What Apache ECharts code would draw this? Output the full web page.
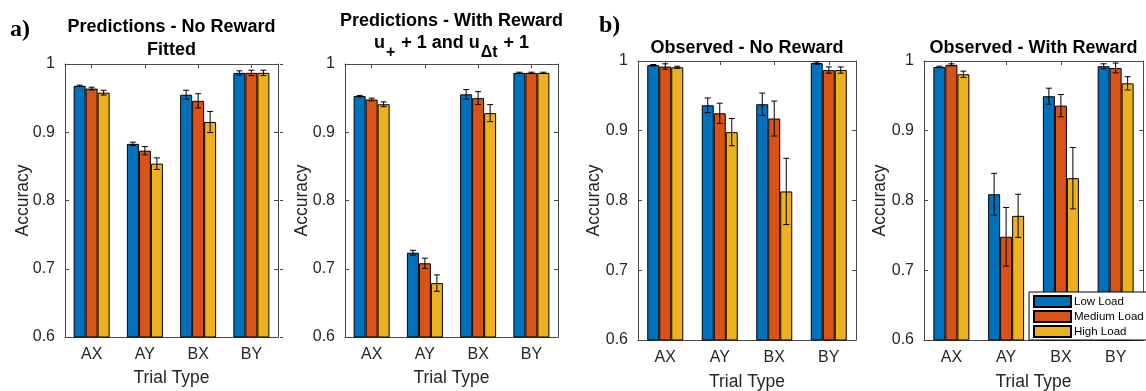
<!DOCTYPE html>
<html>
<head>
<meta charset="utf-8">
<script src="https://cdn.jsdelivr.net/npm/echarts@6/dist/echarts.min.js"></script>
<style>
  html, body { margin: 0; padding: 0; background: #fff; }
  #chart { width: 1146px; height: 391px; }
</style>
</head>
<body>
<div id="chart"></div>
<script>
// Trial types and working-memory load conditions
const categories = ['AX', 'AY', 'BX', 'BY'];
const loads = ['Low Load', 'Medium Load', 'High Load'];
const yTickValues = [0.6, 0.7, 0.8, 0.9, 1];

// Mean accuracy, rows = low / medium / high load, columns = AX, AY, BX, BY
const fitNoRewardMean = [
  [0.968, 0.883, 0.955, 0.987],
  [0.964, 0.873, 0.946, 0.987],
  [0.958, 0.854, 0.915, 0.987]
];
const fitNoRewardErr = [
  [0.001, 0.0025, 0.0065, 0.003],
  [0.002, 0.006, 0.0105, 0.004],
  [0.0035, 0.0085, 0.0155, 0.004]
];

const fitRewardMean = [
  [0.953, 0.7235, 0.9555, 0.987],
  [0.948, 0.708, 0.950, 0.987],
  [0.941, 0.679, 0.928, 0.987]
];
const fitRewardErr = [
  [0.001, 0.0035, 0.007, 0.001],
  [0.002, 0.0075, 0.0095, 0.001],
  [0.0035, 0.012, 0.0125, 0.001]
];

const obsNoRewardMean = [
  [0.994, 0.9365, 0.938, 0.997],
  [0.992, 0.925, 0.9175, 0.987],
  [0.991, 0.898, 0.813, 0.987]
];
const obsNoRewardErr = [
  [0.001, 0.0105, 0.016, 0.0015],
  [0.004, 0.0145, 0.025, 0.0045],
  [0.0015, 0.0195, 0.0475, 0.0045]
];

const obsRewardMean = [
  [0.9915, 0.809, 0.9495, 0.9925],
  [0.9945, 0.748, 0.936, 0.990],
  [0.981, 0.778, 0.832, 0.968]
];
const obsRewardErr = [
  [0.001, 0.030, 0.0115, 0.0035],
  [0.0015, 0.042, 0.016, 0.007],
  [0.0045, 0.031, 0.044, 0.0095]
];

// Colours (MATLAB default order)
const loadColors = ['#0072BD', '#D95319', '#EDB120'];
const FONT = 'Liberation Sans, Arial, Helvetica, sans-serif';
const AXIS_COLOR = '#4a4a4a';
const TEXT_COLOR = '#262626';
const BAR_WIDTH = 12;

// Panel layout (pixel boxes of each axes)
const panels = [
  { box: { left: 65,  top: 64, width: 213, height: 273 }, mean: fitNoRewardMean, err: fitNoRewardErr, xNameGap: 32, yNameGap: 33 },
  { box: { left: 345, top: 64, width: 213, height: 273 }, mean: fitRewardMean,   err: fitRewardErr,   xNameGap: 32, yNameGap: 33.5 },
  { box: { left: 638, top: 61, width: 218, height: 279 }, mean: obsNoRewardMean, err: obsNoRewardErr, xNameGap: 33, yNameGap: 34.5 },
  { box: { left: 924, top: 61, width: 219, height: 279 }, mean: obsRewardMean,   err: obsRewardErr,   xNameGap: 33, yNameGap: 34.5 }
];

const grids = [];
const xAxes = [];
const yAxes = [];
const series = [];

panels.forEach((p, pi) => {
  grids.push(Object.assign({ containLabel: false, outerBoundsMode: 'none' }, p.box));

  // bottom axis with labels
  xAxes.push({
    type: 'category', gridIndex: pi, position: 'bottom', data: categories,
    boundaryGap: true,
    axisLine: { show: true, lineStyle: { color: AXIS_COLOR, width: 1 } },
    axisTick: { show: true, inside: true, length: 4, alignWithLabel: true, lineStyle: { color: AXIS_COLOR } },
    axisLabel: { fontSize: 16, color: TEXT_COLOR, margin: 10, fontFamily: FONT },
    name: 'Trial Type', nameLocation: 'middle', nameGap: p.xNameGap,
    nameTextStyle: { fontSize: 17.5, color: TEXT_COLOR, fontFamily: FONT },
    splitLine: { show: false }
  });
  // top box edge with category ticks
  xAxes.push({
    type: 'category', gridIndex: pi, position: 'top', data: categories,
    boundaryGap: true,
    axisLine: { show: true, lineStyle: { color: AXIS_COLOR, width: 1 } },
    axisTick: { show: true, inside: true, length: 4, alignWithLabel: true, lineStyle: { color: AXIS_COLOR } },
    axisLabel: { show: false },
    splitLine: { show: false }
  });
  // left value axis
  yAxes.push({
    type: 'value', gridIndex: pi, position: 'left', min: 0.6, max: 1, interval: 0.1,
    axisLine: { show: true, lineStyle: { color: AXIS_COLOR, width: 1 } },
    axisTick: { show: true, inside: true, length: 4, lineStyle: { color: AXIS_COLOR } },
    axisLabel: {
      fontSize: 16, color: TEXT_COLOR, margin: 10, fontFamily: FONT,
      formatter: v => String(+v.toFixed(1))
    },
    splitLine: { show: false },
    name: 'Accuracy', nameLocation: 'middle', nameGap: p.yNameGap, nameMoveOverlap: false,
    nameTextStyle: { fontSize: 17.5, color: TEXT_COLOR, fontFamily: FONT }
  });
  // right box edge
  yAxes.push({
    type: 'value', gridIndex: pi, position: 'right', min: 0.6, max: 1, interval: 0.1,
    axisLine: { show: true, lineStyle: { color: AXIS_COLOR, width: 1 } },
    axisTick: { show: true, inside: true, length: 4, lineStyle: { color: AXIS_COLOR } },
    axisLabel: { show: false },
    splitLine: { show: false }
  });

  // bars
  loads.forEach((load, li) => {
    series.push({
      type: 'bar', name: load,
      xAxisIndex: pi * 2, yAxisIndex: pi * 2,
      data: p.mean[li],
      barWidth: BAR_WIDTH, barGap: '0%',
      itemStyle: { color: loadColors[li], borderColor: '#000', borderWidth: 1 },
      emphasis: { disabled: true },
      clip: true, z: 2
    });
  });

  // error bars
  loads.forEach((load, li) => {
    series.push({
      type: 'custom', name: 'err-' + pi + '-' + li,
      xAxisIndex: pi * 2, yAxisIndex: pi * 2,
      data: p.mean[li].map((m, k) => [k, m, p.err[li][k]]),
      z: 5, silent: true,
      renderItem: (params, api) => {
        const k = api.value(0), m = api.value(1), e = api.value(2);
        const off = (li - 1) * BAR_WIDTH;
        const c = api.coord([k, m]);
        const x = c[0] + off;
        const yTop = api.coord([k, m + e])[1];
        const yBot = api.coord([k, m - e])[1];
        const cap = 3;
        const st = { stroke: '#000', lineWidth: 1 };
        return {
          type: 'group',
          children: [
            { type: 'line', shape: { x1: x, y1: yTop, x2: x, y2: yBot }, style: st },
            { type: 'line', shape: { x1: x - cap, y1: yTop, x2: x + cap, y2: yTop }, style: st },
            { type: 'line', shape: { x1: x - cap, y1: yBot, x2: x + cap, y2: yBot }, style: st }
          ]
        };
      }
    });
  });
});

// small outer tick marks on the right of the first panel
yAxes.push({
  type: 'value', gridIndex: 0, position: 'right', offset: 2, min: 0.6, max: 1, interval: 0.1,
  axisLine: { show: false },
  axisTick: { show: true, inside: false, length: 3, lineStyle: { color: AXIS_COLOR } },
  axisLabel: { show: false },
  splitLine: { show: false }
});

const titleStyle = { fontSize: 18, fontWeight: 'bold', color: '#000', fontFamily: FONT, lineHeight: 23 };

const option = {
  animation: false,
  backgroundColor: '#fff',
  textStyle: { fontFamily: FONT },
  title: [
    { text: 'Predictions - No Reward\nFitted', left: 171.5, top: 16, textAlign: 'center', padding: 0, textStyle: titleStyle },
    { text: 'Predictions - With Reward', left: 451.5, top: 10, textAlign: 'center', padding: 0, textStyle: titleStyle },
    {
      text: '{n|u}{s|+}{n| + 1 and u}{s|Δt}{n| + 1}', left: 451.5, top: 34, textAlign: 'center', padding: 0,
      textStyle: {
        rich: {
          n: { fontSize: 18, fontWeight: 'bold', color: '#000', fontFamily: FONT, lineHeight: 20, verticalAlign: 'top' },
          s: { fontSize: 16, fontWeight: 'bold', color: '#000', fontFamily: FONT, lineHeight: 20, padding: [11, 1, 0, 1], verticalAlign: 'top' }
        }
      }
    },
    { text: 'Observed - No Reward', left: 747, top: 37, textAlign: 'center', padding: 0, textStyle: titleStyle },
    { text: 'Observed - With Reward', left: 1033.5, top: 37, textAlign: 'center', padding: 0, textStyle: titleStyle }
  ],
  legend: {
    data: loads,
    orient: 'vertical', left: 1029, top: 292,
    icon: 'rect', itemWidth: 37, itemHeight: 11, itemGap: 2,
    padding: [3, 10, 2, 4],
    backgroundColor: '#fff', borderColor: '#000', borderWidth: 1,
    textStyle: { fontSize: 11.5, color: '#000', fontFamily: FONT, lineHeight: 12, padding: [0, 0, 0, -2] },
    selectedMode: false, z: 10
  },
  graphic: [
    { type: 'text', left: 10, top: 18, style: { text: 'a)', font: 'bold 24px "Liberation Serif", "Times New Roman", serif', fill: '#000' } },
    { type: 'text', left: 599, top: 14, style: { text: 'b)', font: 'bold 24px "Liberation Serif", "Times New Roman", serif', fill: '#000' } }
  ],
  grid: grids,
  xAxis: xAxes,
  yAxis: yAxes,
  series: series
};

const chart = echarts.init(document.getElementById('chart'), null, { renderer: 'canvas' });
chart.setOption(option);
</script>
</body>
</html>
